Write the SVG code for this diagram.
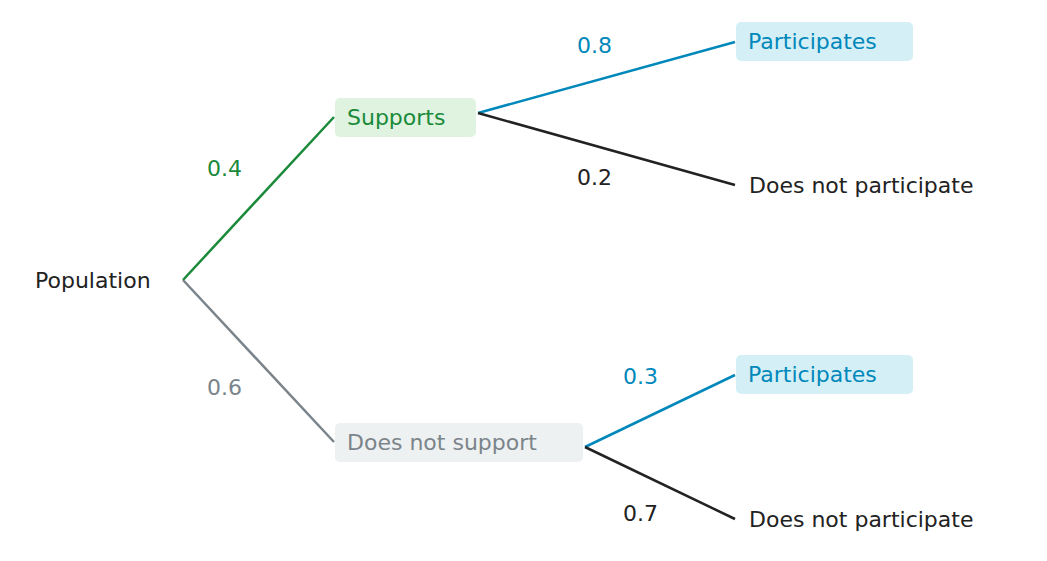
<svg xmlns="http://www.w3.org/2000/svg" width="1047" height="561" viewBox="0 0 1047 561">
<style>
text{font-family:"DejaVu Sans",sans-serif;font-size:22px;}
.g{fill:#1a8a3a}.b{fill:#0088bb}.k{fill:#222}.s{fill:#7b848a}
line{stroke-width:2.5;fill:none}
</style>
<rect width="1047" height="561" fill="#fff"/>
<g id="connectors">
<line x1="183" y1="280" x2="334" y2="117" stroke="#1a8a3a"/>
<line x1="183" y1="280" x2="334" y2="442" stroke="#7b848a"/>
<line x1="478" y1="113" x2="735" y2="42" stroke="#0088bb"/>
<line x1="478" y1="113" x2="735" y2="185" stroke="#222"/>
<line x1="585" y1="447" x2="735" y2="375" stroke="#0088bb"/>
<line x1="585" y1="447" x2="735" y2="519" stroke="#222"/>
<text x="207" y="176" class="g">0.4</text>
<text x="207" y="395" class="s">0.6</text>
<text x="577" y="53" class="b">0.8</text>
<text x="577" y="185" class="k">0.2</text>
<text x="623" y="384" class="b">0.3</text>
<text x="623" y="521" class="k">0.7</text>
</g>
<g id="population"><text x="35" y="288" class="k">Population</text></g>
<g id="supports"><rect x="335" y="98" width="141" height="39" rx="5" fill="#dff3e0"/><text x="347" y="125" class="g">Supports</text></g>
<g id="notsupport"><rect x="335" y="423" width="248" height="39" rx="5" fill="#eef1f2"/><text x="347" y="450" class="s">Does not support</text></g>
<g id="part1"><rect x="736" y="22" width="177" height="39" rx="5" fill="#d5eff7"/><text x="748" y="49" class="b">Participates</text></g>
<g id="nopart1"><text x="749" y="193" class="k">Does not participate</text></g>
<g id="part2"><rect x="736" y="355" width="177" height="39" rx="5" fill="#d5eff7"/><text x="748" y="382" class="b">Participates</text></g>
<g id="nopart2"><text x="749" y="527" class="k">Does not participate</text></g>
</svg>
